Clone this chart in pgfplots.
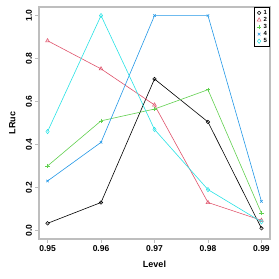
\documentclass[border=0pt]{standalone}
\usepackage{pgfplots}
\pgfplotsset{compat=1.18}
\usepackage{fontspec}
\setmainfont{Liberation Sans}
\definecolor{c1}{HTML}{000000}
\definecolor{c2}{HTML}{DF536B}
\definecolor{c3}{HTML}{61D04F}
\definecolor{c4}{HTML}{2297E6}
\definecolor{c5}{HTML}{28E2E5}
\definecolor{boxgray}{HTML}{BEBEBE}
\begin{document}
\begin{tikzpicture}[x=1pt,y=1pt]
\begin{axis}[
  scale only axis, width=231pt, height=232pt,
  xmin=0.9484, xmax=0.9916, ymin=-0.04, ymax=1.04,
  axis line style={boxgray, line width=1.2pt},
  xtick={0.95,0.96,0.97,0.98,0.99},
  ytick={0,0.2,0.4,0.6,0.8,1.0},
  xticklabels={0.95,0.96,0.97,0.98,0.99},
  yticklabels={0.0,0.2,0.4,0.6,0.8,1.0},
  tick align=outside, major tick length=3.5pt,
  tick style={boxgray, line width=0.8pt},
  xtick pos=bottom, ytick pos=left,
  ticklabel style={font=\bfseries\fontsize{8.5}{10}\selectfont, text=black},
  yticklabel style={rotate=90, anchor=south},
  xlabel={\bfseries Level}, ylabel={\bfseries LRuc},
  label style={font=\bfseries\fontsize{9}{11}\selectfont},
  xlabel style={at={(rel axis cs:0.5,0)}, anchor=north, yshift=-18pt},
  ylabel style={at={(rel axis cs:0,0.5)}, anchor=south, yshift=20pt},
  legend style={at={(rel axis cs:1,1)}, anchor=north east, draw=black, line width=0.6pt,
    font=\bfseries\fontsize{6}{7}\selectfont, row sep=-0.6pt, inner sep=1.8pt,
    nodes={inner sep=1pt, text=black}},
  legend cell align=left,
  legend image code/.code={\path (0cm,0cm) (0.22cm,0cm); \draw[#1] plot[only marks] coordinates {(0.11cm,0cm)};},
  clip=false,
]
\addplot[c1, line width=0.6pt, mark=o, mark size=1.8pt, mark options={line width=0.5pt}] coordinates {(0.95,0.033)(0.96,0.13)(0.97,0.705)(0.98,0.505)(0.99,0.01)};
\addplot[c2, line width=0.6pt, mark=triangle, mark size=2.2pt, mark options={line width=0.5pt}] coordinates {(0.95,0.883)(0.96,0.752)(0.97,0.584)(0.98,0.13)(0.99,0.047)};
\addplot[c3, line width=0.6pt, mark=+, mark size=2.2pt, mark options={line width=0.5pt}] coordinates {(0.95,0.30)(0.96,0.51)(0.97,0.565)(0.98,0.655)(0.99,0.08)};
\addplot[c4, line width=0.6pt, mark=x, mark size=1.8pt, mark options={line width=0.5pt}] coordinates {(0.95,0.23)(0.96,0.41)(0.97,1.0)(0.98,1.0)(0.99,0.135)};
\addplot[c5, line width=0.6pt, mark=diamond, mark size=2.2pt, mark options={line width=0.5pt}] coordinates {(0.95,0.46)(0.96,1.0)(0.97,0.47)(0.98,0.19)(0.99,0.04)};
\legend{1,2,3,4,5}
\path (rel axis cs:0,0) ++(-39pt,-40pt) coordinate (bbsw);
\path (rel axis cs:1,1) ++(9pt,7pt) coordinate (bbne);
\end{axis}
\path[use as bounding box] (bbsw) rectangle (bbne);
\end{tikzpicture}
\end{document}
